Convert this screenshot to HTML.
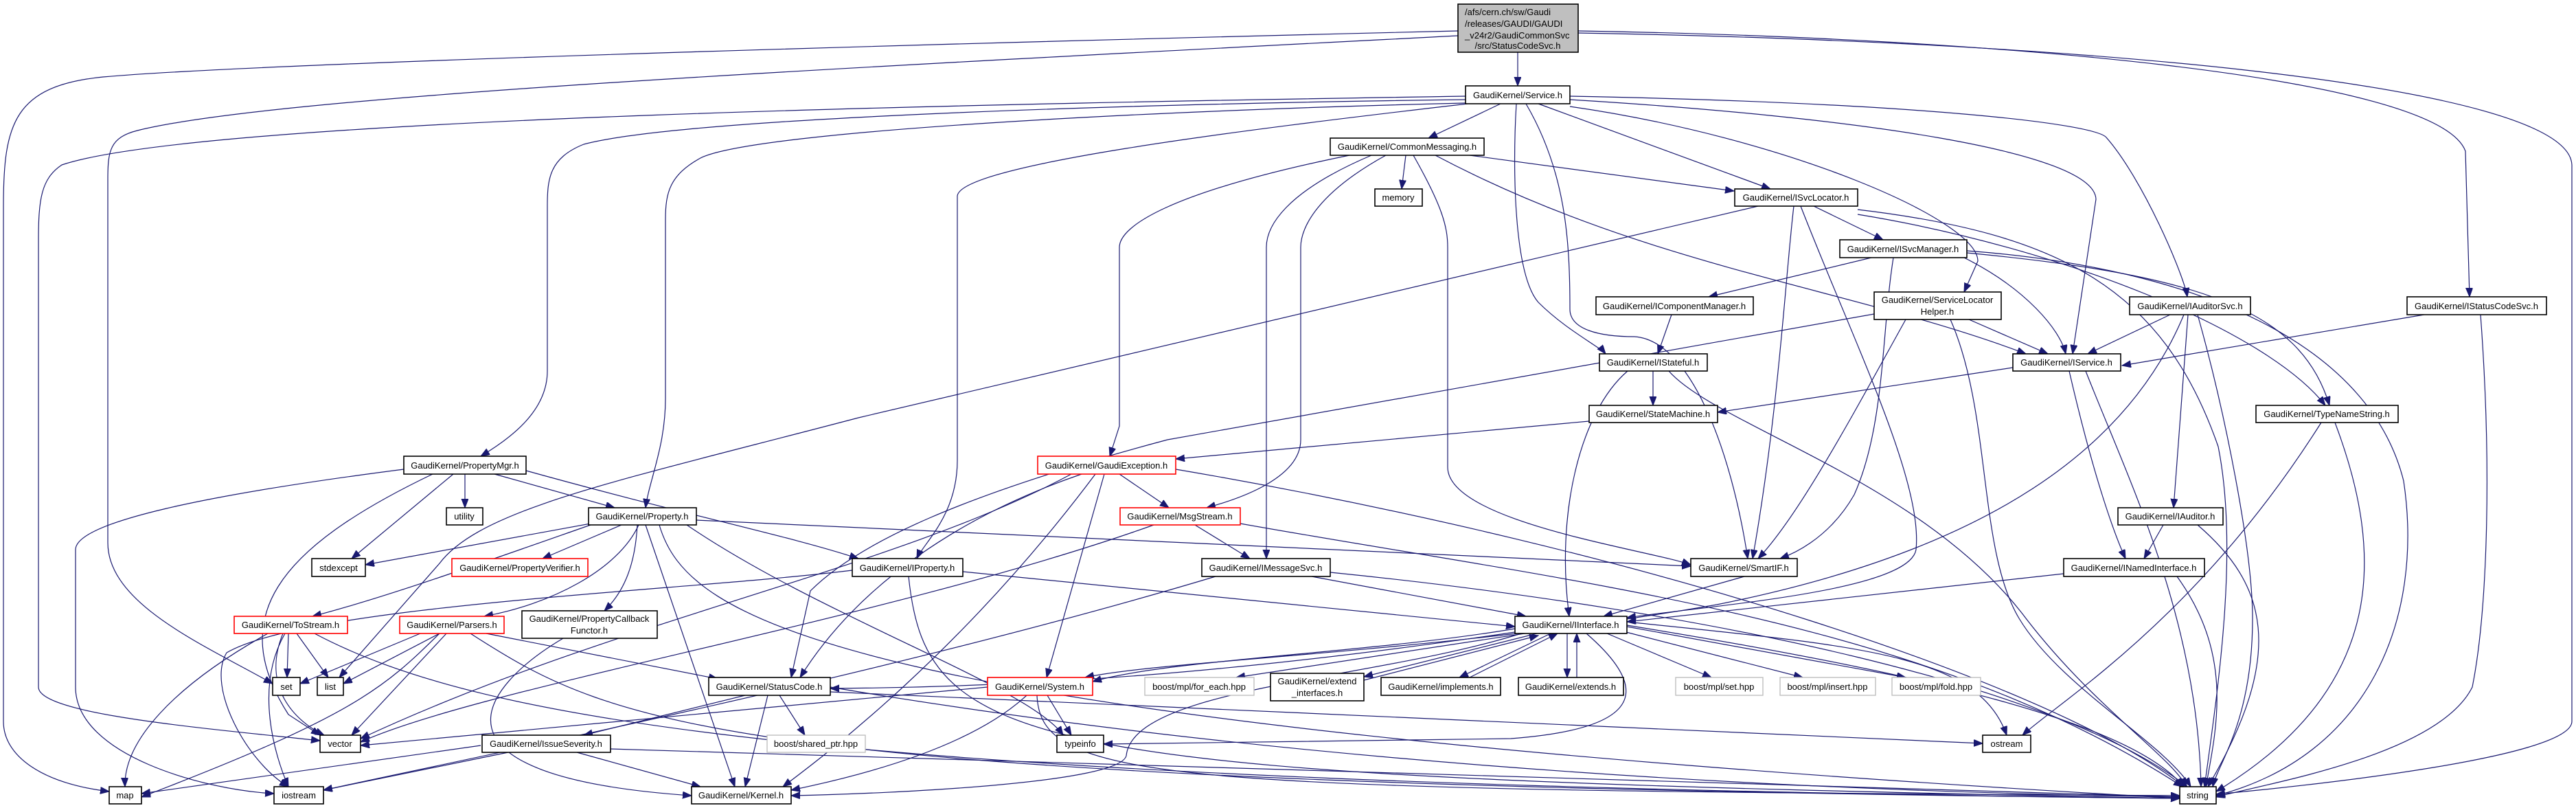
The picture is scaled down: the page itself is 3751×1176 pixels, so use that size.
<!DOCTYPE html>
<html><head><meta charset="utf-8"><style>
html,body{margin:0;padding:0;background:#fff;}
svg{display:block;}
text{font-family:"Liberation Sans",sans-serif;font-size:13px;fill:#000;}
.e{fill:none;stroke:#191970;stroke-width:1.2;marker-end:url(#a);}
.n{fill:#fff;stroke:#000;stroke-width:1.6;}
.r{fill:#fff;stroke:#ff0000;stroke-width:1.6;}
.g{fill:#fff;stroke:#bfbfbf;stroke-width:1.4;}
</style></head><body>
<svg width="3751" height="1176" viewBox="0 0 3751 1176" xmlns="http://www.w3.org/2000/svg">
<defs><marker id="a" markerUnits="userSpaceOnUse" markerWidth="14" markerHeight="12" refX="13" refY="5" orient="auto"><path d="M0,0 L13,5 L0,10 z" fill="#191970" stroke="#191970"/></marker></defs>
<g>
<path class="e" d="M2210,76 L2210,125"/>
<path class="e" d="M2123,45 C1500,60 400,90 150,112 C20,125 5,180 5,300 L5,1050 C5,1100 60,1140 159,1152"/>
<path class="e" d="M2123,52 C1200,100 400,140 200,190 C160,200 157,220 157,260 L157,790 C157,880 300,940 397,995"/>
<path class="e" d="M2298,45 C2900,55 3550,110 3590,220 L3596,432"/>
<path class="e" d="M2298,48 C3000,60 3740,120 3745,240 L3745,1050 C3745,1100 3400,1140 3227,1156"/>
<path class="e" d="M2134,140 C1500,150 300,170 90,240 C60,260 56,290 56,350 L56,1000 C56,1040 300,1060 466,1078"/>
<path class="e" d="M2134,145 C1700,150 1000,170 850,210 C800,230 797,260 797,300 L797,540 C797,600 740,640 700,664"/>
<path class="e" d="M2134,150 C1700,160 1100,190 1020,230 C975,255 969,280 969,320 L969,580 C969,650 945,700 940,739"/>
<path class="e" d="M2137,151 C1800,190 1400,240 1394,285 L1394,670 C1394,750 1345,790 1335,813"/>
<path class="e" d="M2185,151 L2080,201"/>
<path class="e" d="M2240,151 L2578,275"/>
<path class="e" d="M2208,151 C2202,250 2205,400 2240,440 C2280,480 2330,505 2338,515"/>
<path class="e" d="M2222,151 C2280,250 2286,350 2286,450 C2286,480 2330,490 2380,490 C2460,495 2520,650 2545,813"/>
<path class="e" d="M2286,155 C2600,200 2880,320 2880,380 L2860,425"/>
<path class="e" d="M2286,145 C2700,170 3050,220 3052,290 L3018,515"/>
<path class="e" d="M2286,140 C2800,150 3050,180 3067,200 C3120,260 3180,400 3185,432"/>
<path class="e" d="M2047,226 L2041,275"/>
<path class="e" d="M2140,226 L2525,278"/>
<path class="e" d="M2090,226 C2400,390 2700,420 2950,515"/>
<path class="e" d="M1965,226 C1700,280 1630,330 1630,360 L1630,620 L1616,664"/>
<path class="e" d="M1997,226 C1870,280 1844,330 1844,360 L1844,813"/>
<path class="e" d="M2018,226 C1920,280 1894,330 1894,360 L1894,640 C1894,700 1790,730 1757,739"/>
<path class="e" d="M2058,226 C2100,300 2108,330 2108,360 L2108,680 C2108,760 2400,800 2462,822"/>
<path class="e" d="M2641,300 L2742,349"/>
<path class="e" d="M2612,300 C2600,400 2590,600 2552,813"/>
<path class="e" d="M2560,300 L1250,608 C900,700 700,740 640,820 L494,986"/>
<path class="e" d="M2705,305 C3000,340 3150,420 3230,650 C3260,800 3230,1000 3210,1145"/>
<path class="e" d="M2705,312 C3000,360 3300,480 3386,590"/>
<path class="e" d="M2622,300 C2700,500 2800,700 2790,800 C2780,860 2500,880 2369,899"/>
<path class="e" d="M2725,375 L2488,432"/>
<path class="e" d="M2860,375 C2950,420 3000,480 3008,515"/>
<path class="e" d="M2757,375 C2740,480 2745,620 2700,720 C2660,790 2600,810 2592,813"/>
<path class="e" d="M2864,368 C3200,400 3350,450 3392,590"/>
<path class="e" d="M2864,365 C3200,390 3450,500 3500,700 C3530,900 3450,1100 3227,1158"/>
<path class="e" d="M2434,458 L2414,515"/>
<path class="e" d="M2867,465 L2982,515"/>
<path class="e" d="M2729,457 L1700,640 C1400,720 1250,790 1180,860 L1152,986"/>
<path class="e" d="M2775,465 C2700,600 2620,750 2560,813"/>
<path class="e" d="M2840,465 C2900,600 2880,800 2940,900 C3000,1000 3150,1080 3190,1145"/>
<path class="e" d="M3160,458 L3040,515"/>
<path class="e" d="M3186,458 L3165,739"/>
<path class="e" d="M3200,458 C3240,600 3280,800 3280,900 C3280,1050 3230,1110 3222,1145"/>
<path class="e" d="M3180,458 C3100,650 2900,800 2500,880 C2100,950 1700,960 1580,986"/>
<path class="e" d="M3530,458 L3090,532"/>
<path class="e" d="M3612,458 C3630,700 3620,900 3600,1000 C3550,1100 3300,1140 3227,1160"/>
<path class="e" d="M2931,535 L2501,600"/>
<path class="e" d="M3013,540 C3050,700 3080,780 3095,813"/>
<path class="e" d="M3037,540 C3100,700 3200,900 3205,1145"/>
<path class="e" d="M2407,540 L2407,590"/>
<path class="e" d="M2370,540 C2300,600 2265,750 2285,897"/>
<path class="e" d="M2430,540 C2500,620 2800,700 2950,900 C3050,1030 3160,1100 3184,1145"/>
<path class="e" d="M2314,613 L1712,668"/>
<path class="e" d="M3380,615 C3200,900 3000,1020 2945,1070"/>
<path class="e" d="M3400,615 C3470,800 3480,1000 3227,1152"/>
<path class="e" d="M1630,690 L1702,739"/>
<path class="e" d="M1712,683 C2400,800 3000,1000 3180,1145"/>
<path class="e" d="M1575,690 C1400,750 1250,850 1165,986"/>
<path class="e" d="M1608,690 L1524,986"/>
<path class="e" d="M1595,690 C1400,950 1200,1100 1140,1145"/>
<path class="e" d="M1560,690 C1300,830 900,900 525,1075"/>
<path class="e" d="M1740,764 L1820,813"/>
<path class="e" d="M1806,762 C2300,850 2800,900 3178,1145"/>
<path class="e" d="M1680,764 C1300,900 700,1000 525,1080"/>
<path class="e" d="M1910,839 L2222,897"/>
<path class="e" d="M1937,833 C2500,890 3000,1000 3185,1145"/>
<path class="e" d="M1770,839 C1300,980 700,1100 471,1150"/>
<path class="e" d="M1402,832 L2206,912"/>
<path class="e" d="M1323,839 C1350,1100 1500,1130 3174,1162"/>
<path class="e" d="M1241,830 C1000,860 450,880 330,950 C300,1000 360,1110 420,1145"/>
<path class="e" d="M2540,839 L2335,897"/>
<path class="e" d="M3005,835 L2369,905"/>
<path class="e" d="M3170,839 C3250,950 3230,1050 3212,1145"/>
<path class="e" d="M3150,764 L3122,813"/>
<path class="e" d="M3200,764 C3300,850 3330,950 3215,1145"/>
<path class="e" d="M2206,915 C2000,950 1700,960 1591,992"/>
<path class="e" d="M2215,922 C2000,990 1650,1000 1640,1100 C1630,1140 1300,1155 1152,1158"/>
<path class="e" d="M2206,920 C1800,980 1500,1000 1209,1002"/>
<path class="e" d="M2310,922 C2400,1000 2400,1060 2200,1075 L1607,1083"/>
<path class="e" d="M2220,922 L1800,986"/>
<path class="e" d="M2238,922 L1986,985"/>
<path class="e" d="M1986,990 L2240,925"/>
<path class="e" d="M2258,922 L2125,986"/>
<path class="e" d="M2140,986 L2268,922"/>
<path class="e" d="M2282,922 L2282,986"/>
<path class="e" d="M2296,986 L2296,922"/>
<path class="e" d="M2340,922 L2492,986"/>
<path class="e" d="M2360,918 L2625,986"/>
<path class="e" d="M2369,912 L2775,986"/>
<path class="e" d="M2369,905 C2700,940 2880,950 2922,1070"/>
<path class="e" d="M2369,910 C2800,980 3100,1050 3180,1145"/>
<path class="e" d="M1438,1000 L525,1085"/>
<path class="e" d="M1525,1012 L1560,1070"/>
<path class="e" d="M1495,1012 C1400,1100 1200,1140 1152,1150"/>
<path class="e" d="M1510,1012 C1515,1140 1700,1150 3174,1158"/>
<path class="e" d="M1085,1012 L850,1070"/>
<path class="e" d="M1118,1012 L1085,1145"/>
<path class="e" d="M1135,1012 L1172,1070"/>
<path class="e" d="M1209,1007 L2887,1082"/>
<path class="e" d="M1209,1000 C1800,1100 2500,1150 3174,1160"/>
<path class="e" d="M700,1085 L206,1155"/>
<path class="e" d="M740,1095 L471,1150"/>
<path class="e" d="M840,1095 L1020,1145"/>
<path class="e" d="M889,1090 L3174,1160"/>
<path class="e" d="M820,929 C700,1000 600,1130 1007,1158"/>
<path class="e" d="M677,690 L677,739"/>
<path class="e" d="M660,690 L512,813"/>
<path class="e" d="M720,690 L895,739"/>
<path class="e" d="M766,685 C1000,750 1150,780 1250,813"/>
<path class="e" d="M588,683 C300,720 110,760 110,800 L110,1000 C110,1100 300,1150 399,1155"/>
<path class="e" d="M630,690 C400,800 330,900 420,1040 L466,1070"/>
<path class="e" d="M860,762 L532,822"/>
<path class="e" d="M905,764 L790,813"/>
<path class="e" d="M860,764 C700,820 560,870 455,897"/>
<path class="e" d="M930,764 C900,830 800,880 705,897"/>
<path class="e" d="M928,764 C925,820 910,860 880,889"/>
<path class="e" d="M940,764 L1070,1145"/>
<path class="e" d="M960,764 C1000,900 1200,1050 3174,1162"/>
<path class="e" d="M1000,764 C1200,900 1500,1000 1548,1070"/>
<path class="e" d="M1014,757 L2462,824"/>
<path class="e" d="M420,922 L418,986"/>
<path class="e" d="M432,922 L478,986"/>
<path class="e" d="M390,922 C250,1000 180,1080 182,1145"/>
<path class="e" d="M412,922 C380,1000 430,1050 472,1070"/>
<path class="e" d="M415,922 C370,1000 400,1100 420,1145"/>
<path class="e" d="M458,922 C700,1050 1200,1140 3174,1162"/>
<path class="e" d="M612,922 L437,995"/>
<path class="e" d="M640,922 L500,995"/>
<path class="e" d="M650,922 L512,1070"/>
<path class="e" d="M640,922 C560,1000 520,1040 206,1160"/>
<path class="e" d="M708,922 L1045,988"/>
<path class="e" d="M685,922 C900,1060 1050,1140 3174,1162"/>
</g>
<g>
<rect x="2123" y="6" width="175" height="70" fill="#bfbfbf" stroke="#000" stroke-width="1.6"/>
<text x="2133" y="22">/afs/cern.ch/sw/Gaudi</text>
<text x="2133" y="39">/releases/GAUDI/GAUDI</text>
<text x="2133" y="56">_v24r2/GaudiCommonSvc</text>
<text x="2210" y="71" text-anchor="middle">/src/StatusCodeSvc.h</text>
<rect class="n" x="2134" y="125" width="152" height="26"/><text x="2210" y="143" text-anchor="middle">GaudiKernel/Service.h</text>
<rect class="n" x="1937" y="201" width="224" height="25"/><text x="2049" y="218" text-anchor="middle">GaudiKernel/CommonMessaging.h</text>
<rect class="n" x="2002" y="275" width="69" height="25"/><text x="2036" y="292" text-anchor="middle">memory</text>
<rect class="n" x="2526" y="275" width="179" height="25"/><text x="2615" y="292" text-anchor="middle">GaudiKernel/ISvcLocator.h</text>
<rect class="n" x="2679" y="349" width="185" height="26"/><text x="2771" y="367" text-anchor="middle">GaudiKernel/ISvcManager.h</text>
<rect class="n" x="2324" y="432" width="229" height="26"/><text x="2438" y="450" text-anchor="middle">GaudiKernel/IComponentManager.h</text>
<rect class="n" x="2729" y="425" width="185" height="40"/><text x="2821" y="441" text-anchor="middle">GaudiKernel/ServiceLocator</text><text x="2821" y="458" text-anchor="middle">Helper.h</text>
<rect class="n" x="3101" y="432" width="176" height="26"/><text x="3189" y="450" text-anchor="middle">GaudiKernel/IAuditorSvc.h</text>
<rect class="n" x="3505" y="432" width="203" height="26"/><text x="3606" y="450" text-anchor="middle">GaudiKernel/IStatusCodeSvc.h</text>
<rect class="n" x="2329" y="515" width="157" height="25"/><text x="2407" y="532" text-anchor="middle">GaudiKernel/IStateful.h</text>
<rect class="n" x="2931" y="515" width="157" height="25"/><text x="3009" y="532" text-anchor="middle">GaudiKernel/IService.h</text>
<rect class="n" x="2314" y="590" width="187" height="25"/><text x="2407" y="607" text-anchor="middle">GaudiKernel/StateMachine.h</text>
<rect class="n" x="3285" y="590" width="207" height="25"/><text x="3388" y="607" text-anchor="middle">GaudiKernel/TypeNameString.h</text>
<rect class="n" x="588" y="664" width="178" height="26"/><text x="677" y="682" text-anchor="middle">GaudiKernel/PropertyMgr.h</text>
<rect class="r" x="1511" y="664" width="201" height="26"/><text x="1611" y="682" text-anchor="middle">GaudiKernel/GaudiException.h</text>
<rect class="n" x="650" y="739" width="53" height="25"/><text x="676" y="756" text-anchor="middle">utility</text>
<rect class="n" x="857" y="739" width="157" height="25"/><text x="935" y="756" text-anchor="middle">GaudiKernel/Property.h</text>
<rect class="r" x="1631" y="739" width="175" height="25"/><text x="1718" y="756" text-anchor="middle">GaudiKernel/MsgStream.h</text>
<rect class="n" x="3084" y="739" width="153" height="25"/><text x="3160" y="756" text-anchor="middle">GaudiKernel/IAuditor.h</text>
<rect class="n" x="454" y="813" width="78" height="26"/><text x="493" y="831" text-anchor="middle">stdexcept</text>
<rect class="r" x="658" y="813" width="198" height="26"/><text x="757" y="831" text-anchor="middle">GaudiKernel/PropertyVerifier.h</text>
<rect class="n" x="1241" y="813" width="161" height="26"/><text x="1321" y="831" text-anchor="middle">GaudiKernel/IProperty.h</text>
<rect class="n" x="1750" y="813" width="187" height="26"/><text x="1843" y="831" text-anchor="middle">GaudiKernel/IMessageSvc.h</text>
<rect class="n" x="2462" y="813" width="155" height="26"/><text x="2539" y="831" text-anchor="middle">GaudiKernel/SmartIF.h</text>
<rect class="n" x="3005" y="813" width="205" height="26"/><text x="3107" y="831" text-anchor="middle">GaudiKernel/INamedInterface.h</text>
<rect class="r" x="341" y="897" width="165" height="25"/><text x="423" y="914" text-anchor="middle">GaudiKernel/ToStream.h</text>
<rect class="r" x="582" y="897" width="152" height="25"/><text x="658" y="914" text-anchor="middle">GaudiKernel/Parsers.h</text>
<rect class="n" x="760" y="889" width="197" height="40"/><text x="858" y="905" text-anchor="middle">GaudiKernel/PropertyCallback</text><text x="858" y="922" text-anchor="middle">Functor.h</text>
<rect class="n" x="2206" y="897" width="163" height="25"/><text x="2287" y="914" text-anchor="middle">GaudiKernel/IInterface.h</text>
<rect class="n" x="397" y="986" width="40" height="26"/><text x="417" y="1004" text-anchor="middle">set</text>
<rect class="n" x="462" y="986" width="38" height="26"/><text x="481" y="1004" text-anchor="middle">list</text>
<rect class="n" x="1032" y="986" width="177" height="26"/><text x="1120" y="1004" text-anchor="middle">GaudiKernel/StatusCode.h</text>
<rect class="r" x="1438" y="986" width="153" height="26"/><text x="1514" y="1004" text-anchor="middle">GaudiKernel/System.h</text>
<rect class="g" x="1667" y="986" width="159" height="26"/><text x="1746" y="1004" text-anchor="middle">boost/mpl/for_each.hpp</text>
<rect class="n" x="1850" y="980" width="136" height="40"/><text x="1918" y="996" text-anchor="middle">GaudiKernel/extend</text><text x="1918" y="1013" text-anchor="middle">_interfaces.h</text>
<rect class="n" x="2011" y="986" width="174" height="26"/><text x="2098" y="1004" text-anchor="middle">GaudiKernel/implements.h</text>
<rect class="n" x="2211" y="986" width="153" height="26"/><text x="2287" y="1004" text-anchor="middle">GaudiKernel/extends.h</text>
<rect class="g" x="2440" y="986" width="127" height="26"/><text x="2503" y="1004" text-anchor="middle">boost/mpl/set.hpp</text>
<rect class="g" x="2592" y="986" width="139" height="26"/><text x="2661" y="1004" text-anchor="middle">boost/mpl/insert.hpp</text>
<rect class="g" x="2755" y="986" width="129" height="26"/><text x="2819" y="1004" text-anchor="middle">boost/mpl/fold.hpp</text>
<rect class="n" x="466" y="1070" width="59" height="25"/><text x="495" y="1087" text-anchor="middle">vector</text>
<rect class="n" x="702" y="1070" width="187" height="25"/><text x="795" y="1087" text-anchor="middle">GaudiKernel/IssueSeverity.h</text>
<rect class="g" x="1117" y="1070" width="143" height="25"/><text x="1188" y="1087" text-anchor="middle">boost/shared_ptr.hpp</text>
<rect class="n" x="1539" y="1070" width="68" height="25"/><text x="1573" y="1087" text-anchor="middle">typeinfo</text>
<rect class="n" x="2887" y="1070" width="70" height="25"/><text x="2922" y="1087" text-anchor="middle">ostream</text>
<rect class="n" x="159" y="1145" width="47" height="25"/><text x="182" y="1162" text-anchor="middle">map</text>
<rect class="n" x="399" y="1145" width="72" height="25"/><text x="435" y="1162" text-anchor="middle">iostream</text>
<rect class="n" x="1007" y="1145" width="145" height="25"/><text x="1079" y="1162" text-anchor="middle">GaudiKernel/Kernel.h</text>
<rect class="n" x="3174" y="1145" width="53" height="25"/><text x="3200" y="1162" text-anchor="middle">string</text>
</g>
</svg>
</body></html>
